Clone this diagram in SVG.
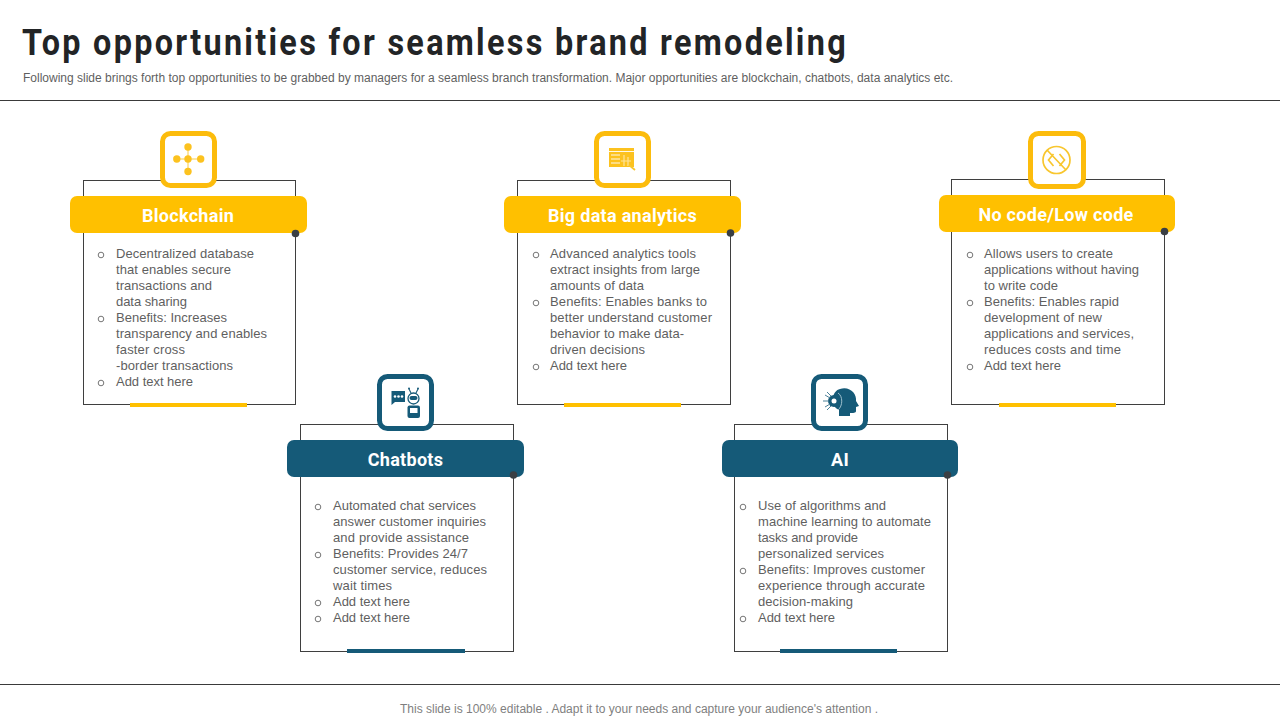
<svg xmlns="http://www.w3.org/2000/svg" width="1280" height="720" viewBox="0 0 1280 720">
<style>
text{font-family:"Liberation Sans",Arial,sans-serif}
.title{font-family:Roboto,sans-serif;font-weight:700;font-size:36.500px;letter-spacing:2.600px;fill:#222426}
.sub{font-size:12px;fill:#5f5f5f}
.foot{font-size:12px;fill:#7f7f7f;text-anchor:middle}
.rule{stroke:#3a3a3a;stroke-width:1;fill:none}
.box{fill:#fff;stroke:#3f3f3f;stroke-width:1}
.head{font-family:Roboto,sans-serif;font-weight:700;font-size:18px;letter-spacing:.3px;fill:#fff;text-anchor:middle}
.b{font-size:13px;fill:#5f5f5f}
.bul{fill:none;stroke:#666;stroke-width:.9}
.y{fill:#ffc000}.t{fill:#155a78}
.frY{fill:#fff;stroke:#fcbc0c;stroke-width:5}
.frT{fill:#fff;stroke:#155a78;stroke-width:5}
.dot{fill:#3a3f44}
.iy{fill:#fcc21f;stroke:none}
.ly{fill:none;stroke:#f8c62e;stroke-width:1.7}
.it{fill:#155a78;stroke:none}
</style>
<text class="title" x="22" y="55" textLength="826" lengthAdjust="spacingAndGlyphs">Top opportunities for seamless brand remodeling</text>
<text class="sub" x="23" y="82" textLength="930" lengthAdjust="spacing">Following slide brings forth top opportunities to be grabbed by managers for a seamless branch transformation. Major opportunities are blockchain, chatbots, data analytics etc.</text>
<line class="rule" x1="0" y1="100.500" x2="1280" y2="100.500"/>
<line class="rule" x1="0" y1="684.500" x2="1280" y2="684.500"/>
<text class="foot" x="639" y="713" textLength="478" lengthAdjust="spacing">This slide is 100% editable . Adapt it to your needs and capture your audience's attention .</text>

<g id="connectors"></g>

<g id="node-blockchain">
<rect class="box" x="83.500" y="180.500" width="212" height="224"/>
<rect class="y" x="70" y="196" width="237" height="37" rx="7"/>
<text class="head" x="188" y="222">Blockchain</text>
<circle class="dot" cx="295.500" cy="233.500" r="3.800"/>
<rect class="y" x="130" y="403" width="117" height="4"/>
<rect class="frY" x="162.500" y="133.500" width="52" height="52" rx="8"/>
<path class="ly" style="stroke-width:.9" d="M188 147V172M177 159H201"/>
<g class="iy"><circle cx="188" cy="147" r="3.700"/><circle cx="188" cy="159" r="3.700"/><circle cx="188" cy="171.500" r="3.700"/><circle cx="176.800" cy="159" r="3.700"/><circle cx="200.700" cy="159" r="3.700"/></g>
<circle class="bul" cx="101" cy="255" r="2.800"/><circle class="bul" cx="101" cy="319" r="2.800"/><circle class="bul" cx="101" cy="383" r="2.800"/>
<text class="b" x="116" y="258" textLength="138">Decentralized database</text>
<text class="b" x="116" y="274" textLength="115">that enables secure</text>
<text class="b" x="116" y="290" textLength="96">transactions and</text>
<text class="b" x="116" y="306" textLength="71">data sharing</text>
<text class="b" x="116" y="322" textLength="111">Benefits: Increases</text>
<text class="b" x="116" y="338" textLength="151">transparency and enables</text>
<text class="b" x="116" y="354" textLength="69">faster cross</text>
<text class="b" x="116" y="370" textLength="117">-border transactions</text>
<text class="b" x="116" y="386" textLength="77">Add text here</text>
</g>

<g id="node-big-data">
<rect class="box" x="517.500" y="180.500" width="213" height="224"/>
<rect class="y" x="504" y="196" width="237" height="37" rx="7"/>
<text class="head" x="622.500" y="222">Big data analytics</text>
<circle class="dot" cx="730.500" cy="233" r="3.800"/>
<rect class="y" x="564" y="403" width="117" height="4"/>
<rect class="frY" x="596.500" y="133.500" width="52" height="52" rx="8"/>
<rect class="iy" x="609" y="148" width="25" height="19"/>
<path d="M609 151.500H634M611 155H620M611 159H620M611 163H620" stroke="#fff" stroke-width=".9" fill="none"/>
<path d="M624 155V166M628 157V166M621 161H631" stroke="#fde39a" stroke-width="1.200" fill="none"/>
<path class="ly" d="M629 165L635 170"/>
<circle class="bul" cx="536" cy="255" r="2.800"/><circle class="bul" cx="536" cy="303" r="2.800"/><circle class="bul" cx="536" cy="367" r="2.800"/>
<text class="b" x="550" y="258" textLength="146">Advanced analytics tools</text>
<text class="b" x="550" y="274" textLength="150">extract insights from large</text>
<text class="b" x="550" y="290" textLength="94">amounts of data</text>
<text class="b" x="550" y="306" textLength="157">Benefits: Enables banks to</text>
<text class="b" x="550" y="322" textLength="162">better understand customer</text>
<text class="b" x="550" y="338" textLength="134">behavior to make data-</text>
<text class="b" x="550" y="354" textLength="95">driven decisions</text>
<text class="b" x="550" y="370" textLength="77">Add text here</text>
</g>

<g id="node-no-code">
<rect class="box" x="951.500" y="179.500" width="213" height="225"/>
<rect class="y" x="939" y="195" width="236" height="37" rx="7"/>
<text class="head" x="1056" y="221">No code/Low code</text>
<circle class="dot" cx="1164.500" cy="231.500" r="3.800"/>
<rect class="y" x="999" y="403" width="117" height="4"/>
<rect class="frY" x="1030.500" y="133.500" width="53" height="53" rx="8"/>
<circle class="ly" cx="1056.500" cy="160" r="13.500"/>
<path class="ly" d="M1047 150L1066 170M1053.500 154L1048.500 160L1053.500 166M1059.500 154L1064.500 160L1059.500 166"/>
<circle class="bul" cx="970" cy="255" r="2.800"/><circle class="bul" cx="970" cy="303" r="2.800"/><circle class="bul" cx="970" cy="367" r="2.800"/>
<text class="b" x="984" y="258" textLength="129">Allows users to create</text>
<text class="b" x="984" y="274" textLength="155">applications without having</text>
<text class="b" x="984" y="290" textLength="74">to write code</text>
<text class="b" x="984" y="306" textLength="135">Benefits: Enables rapid</text>
<text class="b" x="984" y="322" textLength="118">development of new</text>
<text class="b" x="984" y="338" textLength="150">applications and services,</text>
<text class="b" x="984" y="354" textLength="137">reduces costs and time</text>
<text class="b" x="984" y="370" textLength="77">Add text here</text>
</g>

<g id="node-chatbots">
<rect class="box" x="300.500" y="424.500" width="213" height="227"/>
<rect class="t" x="287" y="440" width="237" height="37" rx="7"/>
<text class="head" x="405.500" y="466">Chatbots</text>
<circle class="dot" cx="513.500" cy="475" r="3.800"/>
<rect class="t" x="347" y="649" width="118" height="4"/>
<rect class="frT" x="379.500" y="376.500" width="52" height="52" rx="8"/>
<path class="it" d="M391.500 391H405V402H395L391.500 405Z"/>
<circle cx="395" cy="396.500" r="1.300" fill="#fff"/><circle cx="398.500" cy="396.500" r="1.300" fill="#fff"/><circle cx="402" cy="396.500" r="1.300" fill="#fff"/>
<circle cx="413.500" cy="398.500" r="5.500" fill="#fff" stroke="#155a78" stroke-width="1.300"/>
<rect class="it" x="409.500" y="396" width="8" height="4" rx="2"/>
<path d="M411 393L409 389M416 393L418 389" stroke="#155a78" stroke-width="1.100" fill="none"/>
<circle class="it" cx="409" cy="388.500" r="1"/><circle class="it" cx="418" cy="388.500" r="1"/>
<rect class="it" x="407.500" y="405.500" width="12.500" height="12.500" rx="2"/><rect x="410" y="408" width="7.500" height="5" fill="#fff"/>
<circle class="bul" cx="318" cy="507" r="2.800"/><circle class="bul" cx="318" cy="555" r="2.800"/><circle class="bul" cx="318" cy="603" r="2.800"/><circle class="bul" cx="318" cy="619" r="2.800"/>
<text class="b" x="333" y="510" textLength="143">Automated chat services</text>
<text class="b" x="333" y="526" textLength="153">answer customer inquiries</text>
<text class="b" x="333" y="542" textLength="136">and provide assistance</text>
<text class="b" x="333" y="558" textLength="135">Benefits: Provides 24/7</text>
<text class="b" x="333" y="574" textLength="154">customer service, reduces</text>
<text class="b" x="333" y="590" textLength="59">wait times</text>
<text class="b" x="333" y="606" textLength="77">Add text here</text>
<text class="b" x="333" y="622" textLength="77">Add text here</text>
</g>

<g id="node-ai">
<rect class="box" x="734.500" y="424.500" width="213" height="227"/>
<rect class="t" x="722" y="440" width="236" height="37" rx="7"/>
<text class="head" x="840" y="466">AI</text>
<circle class="dot" cx="947.500" cy="475" r="3.800"/>
<rect class="t" x="780" y="649" width="117" height="4"/>
<rect class="frT" x="813.500" y="376.500" width="52" height="52" rx="8"/>
<path class="it" d="M840 389C850 386 857 394 856 401L859 406L856 407L856 411C856 413 853 413 850 413L850 416H839L839 410C834 408 832 403 833 397C834 393 836 390 840 389Z"/>
<circle class="it" cx="834" cy="401" r="6"/>
<path d="M825 395L830 398M823 401H829M825 407L830 404M827 392L831 396M827 410L831 406" stroke="#4d8199" stroke-width="1" fill="none"/>
<path d="M838 393C843 396 843 406 838 410" stroke="#9dbfcd" stroke-width="1" fill="none"/>
<circle cx="834" cy="401" r="2.500" fill="#fff"/>
<circle class="bul" cx="743" cy="507" r="2.800"/><circle class="bul" cx="743" cy="571" r="2.800"/><circle class="bul" cx="743" cy="619" r="2.800"/>
<text class="b" x="758" y="510" textLength="128">Use of algorithms and</text>
<text class="b" x="758" y="526" textLength="173">machine learning to automate</text>
<text class="b" x="758" y="542" textLength="100">tasks and provide</text>
<text class="b" x="758" y="558" textLength="126">personalized services</text>
<text class="b" x="758" y="574" textLength="167">Benefits: Improves customer</text>
<text class="b" x="758" y="590" textLength="167">experience through accurate</text>
<text class="b" x="758" y="606" textLength="95">decision-making</text>
<text class="b" x="758" y="622" textLength="77">Add text here</text>
</g>
</svg>
